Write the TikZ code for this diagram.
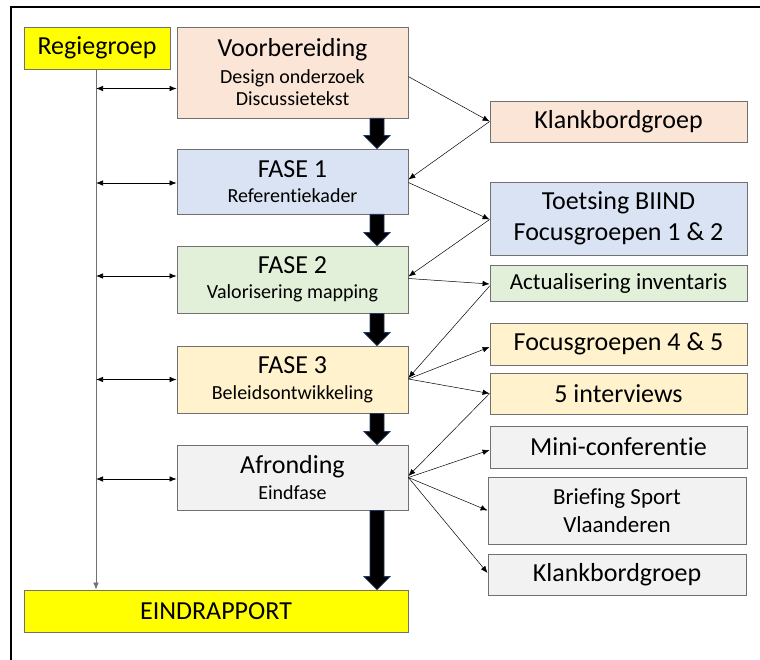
\documentclass[tikz,border=0pt]{standalone}
\usepackage{fontspec}
\setmainfont{Carlito}[RawFeature=-liga]
\usetikzlibrary{arrows.meta,calc}

\definecolor{peach}{HTML}{FBE5D6}
\definecolor{lblue}{HTML}{DAE3F3}
\definecolor{lgreen}{HTML}{E2F0D9}
\definecolor{lyellow}{HTML}{FFF2CC}
\definecolor{lgray}{HTML}{F2F2F2}
\definecolor{brightyellow}{HTML}{FFFF00}
\definecolor{boxline}{HTML}{707070}
\definecolor{navyedge}{HTML}{203864}

\newcommand\fs[1]{\fontsize{#1}{\the\dimexpr#1pt*6/5\relax}\selectfont}
% thick black flow arrow between two points on the same vertical
\newcommand\fatarrow[2]{%
  \draw[fill=black, draw=navyedge, line width=0.8pt, line join=miter]
    let \p1=(#1), \p2=(#2) in
    (\x1-7pt,\y1) -- (\x1+7pt,\y1) -- (\x1+7pt,\y2+13pt) -- (\x1+13pt,\y2+13pt)
    -- (\x1,\y2) -- (\x1-13pt,\y2+13pt) -- (\x1-7pt,\y2+13pt) -- cycle;}

\tikzset{
  box/.style={draw=boxline, line width=0.8pt, rectangle, inner sep=0pt,
              align=center, text=black},
  phase/.style={box, minimum width=231pt, font=\fs{20}},
  side/.style={box, minimum width=257pt, font=\fs{26}},
  link/.style={-{Latex[length=7pt,width=5.5pt]}, line width=0.5pt, draw=black},
  both/.style={{Latex[length=7pt,width=5.5pt]}-{Latex[length=7pt,width=5.5pt]}, line width=0.7pt},
}

\begin{document}
\begin{tikzpicture}[x=1pt,y=-1pt]
\useasboundingbox (0,0) rectangle (760,660);
\fill[white] (0,0) rectangle (760,660);

% frame
\draw[line width=1.6pt] (11,660) -- (11,7) -- (760,7);

% left column
\node[box, fill=brightyellow, minimum width=146pt, minimum height=42pt, font=\fs{26}] (regie) at (97,48) {Regiegroep};
\node[box, fill=brightyellow, minimum width=384pt, minimum height=42pt, font=\fs{26}] (eind) at (216,611) {EINDRAPPORT};

% phases
\node[phase, fill=peach, minimum height=91pt] (voorb) at (292.5,72.5)
  {{\fs{26}Voorbereiding}\\[3pt]Design onderzoek\\[-2pt]Discussietekst};
\node[phase, fill=lblue, minimum height=65pt] (f1) at (292.5,181.5)
  {{\fs{26}FASE 1}\\[1pt]Referentiekader};
\node[phase, fill=lgreen, minimum height=67pt] (f2) at (292.5,279.5)
  {{\fs{26}FASE 2}\\[1pt]Valorisering mapping};
\node[phase, fill=lyellow, minimum height=67pt] (f3) at (292.5,379.5)
  {{\fs{26}FASE 3}\\[2pt]Beleidsontwikkeling};
\node[phase, fill=lgray, minimum height=65pt] (afr) at (292.5,477.5)
  {{\fs{26}Afronding}\\[2pt]Eindfase};

% side activities
\node[side, fill=peach, minimum height=41pt] (k1) at (618.5,121.5) {Klankbordgroep};
\node[side, fill=lblue, minimum height=73pt] (toets) at (618.5,218.5)
  {Toetsing BIIND\\Focusgroepen 1 \& 2};
\node[side, fill=lgreen, minimum height=36pt, font=\fs{23}] (act) at (618.5,283) {Actualisering inventaris};
\node[side, fill=lyellow, minimum height=42pt] (focus) at (618.5,344) {Focusgroepen 4 \& 5};
\node[side, fill=lyellow, minimum height=41pt] (interv) at (618.5,393.5) {5 interviews};
\node[side, fill=lgray, minimum height=42pt] (mini) at (618.5,447) {Mini-conferentie};
\node[side, fill=lgray, minimum width=258pt, minimum height=67pt, font=\fs{23}] (brief) at (617,510.5)
  {Briefing Sport\\Vlaanderen};
\node[side, fill=lgray, minimum width=258pt, minimum height=41pt] (k2) at (617,574.5) {Klankbordgroep};

% main flow
\fatarrow{$(voorb.south)+(84.5,0)$}{$(f1.north)+(84.5,0)$}
\fatarrow{$(f1.south)+(84.5,0)$}{$(f2.north)+(84.5,0)$}
\fatarrow{$(f2.south)+(84.5,0)$}{$(f3.north)+(84.5,0)$}
\fatarrow{$(f3.south)+(84.5,0)$}{$(afr.north)+(84.5,0)$}
\fatarrow{$(afr.south)+(84.5,0)$}{$(eind.north -| afr.south)+(84.5,0)$}

% steering group line
\coordinate (spine) at (96,0);
\draw[link, line width=0.7pt, draw=boxline] (regie.south -| spine) -- (eind.north -| spine);
\draw[both] ($(spine |- voorb.west)+(0,16)$) -- ($(voorb.west)+(0,16)$);
\draw[both] ($(spine |- f1.west)+(0,1.5)$) -- ($(f1.west)+(0,1.5)$);
\draw[both] ($(spine |- f2.west)+(0,-3.5)$) -- ($(f2.west)+(0,-3.5)$);
\draw[both] (spine |- f3.west) -- (f3.west);
\draw[both] ($(spine |- afr.west)+(0,1.5)$) -- ($(afr.west)+(0,1.5)$);

% side links
\draw[link] ($(voorb.north east)+(0,50)$) -- (k1.west);
\draw[link] (k1.west) -- ($(f1.east)+(0,-2)$);
\draw[link] ($(f1.east)+(0,1)$) -- ($(toets.west)+(0,1)$);
\draw[link] ($(toets.west)+(0,1)$) -- ($(f2.east)+(0,-3)$);
\draw[link] ($(f2.east)+(0,-1)$) -- ($(act.west)+(0,1)$);
\draw[link] ($(act.west)+(0,3)$) -- ($(f3.east)+(0,-1.5)$);
\draw[link] ($(f3.east)+(0,-0.5)$) -- ($(focus.west)+(0,3)$);
\draw[link] ($(f3.east)+(0,-0.5)$) -- (interv.west);
\draw[link] (interv.west) -- ($(afr.east)+(0,-1.5)$);
\draw[link] (afr.east) -- ($(mini.west)+(0,3)$);
\draw[link] (afr.east) -- (brief.west);
\draw[link] (afr.east) -- ($(k2.west)+(0,-1.5)$);
\end{tikzpicture}
\end{document}
